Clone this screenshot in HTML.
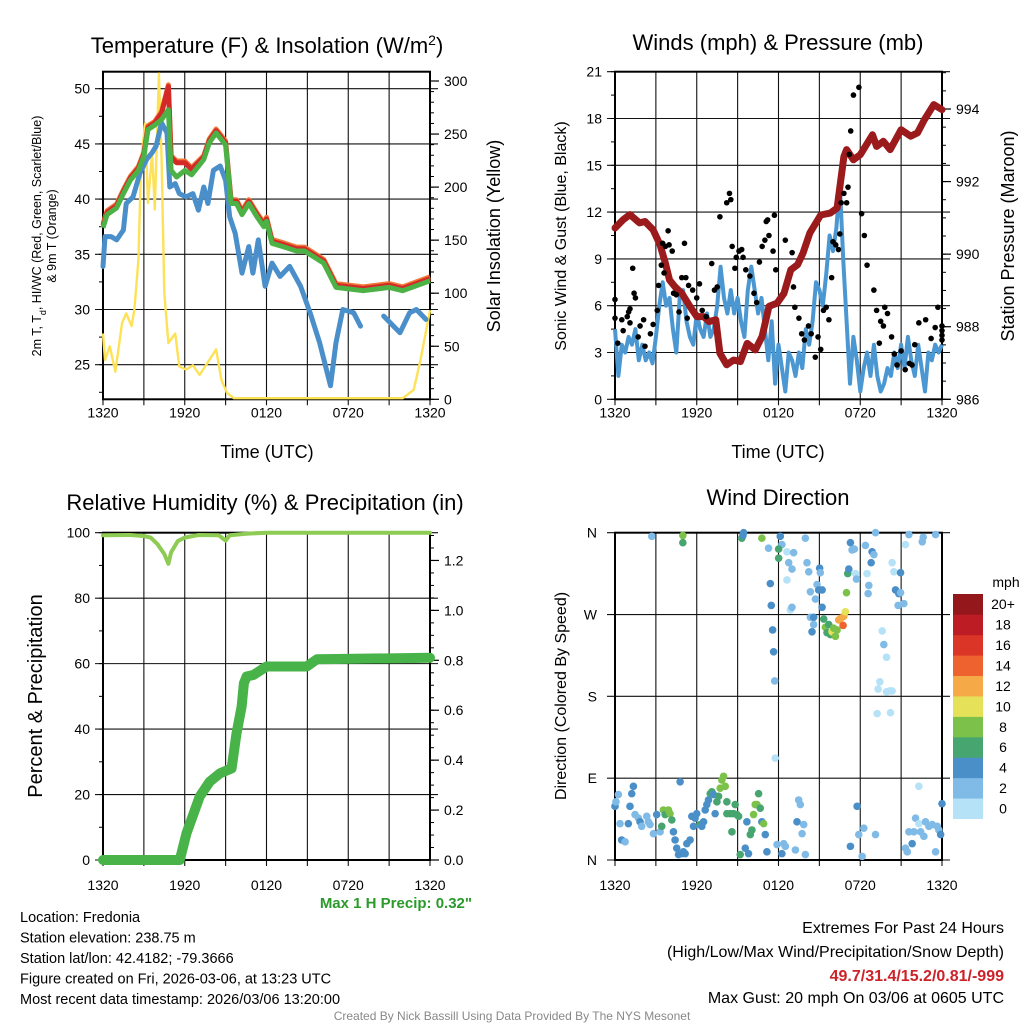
<!DOCTYPE html>
<html><head><meta charset="utf-8">
<style>
html,body{margin:0;padding:0;background:#fff;overflow:hidden;}
svg{display:block;font-family:"Liberation Sans",Arial,sans-serif;}
</style></head>
<body>
<svg id="chart" width="1024" height="1024" viewBox="0 0 1024 1024" xmlns="http://www.w3.org/2000/svg"></svg>
<script>
// ---------- data ----------
const timeTicks = ["1320","1920","0120","0720","1320"];
// Temperature panel
const tempGreenH = [0,0.3,1,1.5,2,2.6,3,3.3,3.8,4.3,4.8,5,5.4,6,6.5,7.4,7.8,8.3,9,9.4,9.8,10.2,10.7,11.3,11.8,12,12.4,13.2,14.2,14.8,16.2,17.1,19.1,21,22,24];
const tempGreen = [37.4,38.6,39.2,40.5,41.7,42.6,43.9,46.3,46.7,47.2,48.1,42.6,42.0,42.6,42.2,43.6,45.1,46.0,44.9,39.6,39.6,38.6,39.6,38.4,37.5,38.0,36.0,35.7,35.3,35.3,34.2,32.0,31.7,32.0,31.7,32.6];
const tempRed = [37.6,38.8,39.4,40.7,41.9,42.8,44.1,46.5,46.9,47.8,50.2,43.8,43.3,43.3,42.7,43.8,45.3,46.2,45.1,39.8,39.8,38.8,39.8,38.6,37.7,38.2,36.2,35.9,35.5,35.5,34.4,32.2,31.9,32.2,31.9,32.8];
const dewH = [0,0.15,0.6,1,1.5,1.7,2.2,2.7,3.2,3.6,3.9,4.3,4.7,4.9,5.3,5.6,6.1,6.6,7,7.4,7.7,8.1,8.6,9,9.3,9.7,10.2,10.7,11,11.4,11.9,12.4,13,13.7,14.5,15.2,15.9,16.7,17.1,17.6,18.4,18.9,19.6,20.6,21.8,22.5,23,23.7];
const dew = [33.9,36.6,36.6,36.3,37.2,39.6,40.2,42.3,43.6,44.2,44.8,46.9,46.0,41.1,41.4,40.5,40.2,40.5,39.0,41.1,39.6,42.6,43.0,41.7,38.4,36.9,33.3,35.7,33.3,36.3,32.1,34.2,33.0,33.9,32.1,29.7,27.0,23.1,27.0,30.0,29.7,28.5,null,29.4,27.9,29.7,30.0,29.1];
const solarH = [0,0.15,0.5,0.9,1.4,1.7,2.1,2.3,2.6,2.8,3.1,3.3,3.6,3.8,4.1,4.3,4.5,4.8,5.3,5.6,6.1,6.6,7.1,7.8,8.3,8.7,9.1,9.6,22,22.8,23.3,24];
const solar = [62,37,50,26,72,81,69,84,131,226,260,185,232,179,307,226,100,53,62,31,28,32,23,37,47,18,6,1,1,9,37,84];
// Winds panel
const windH = [];
for (let i = 0; i <= 96; i++) windH.push(i * 0.25);
const wind = [4.5,1.5,3.5,3,4,3.5,4.5,2.5,3.5,2.5,3,2.3,4,6,7.5,6,6.5,4.5,3,6.5,7,5,4,3.5,5.5,4.5,4,5.5,4,4.5,6,8.5,6.5,5.5,7,5.5,6.5,5,4,7,8.5,7,5.5,6.5,4.5,2.5,5,1,3.5,2,0.5,3,2.5,1.5,3,2,4.5,3.5,5,7.5,7,6,8,10.5,9.5,11,13.8,9,5,1,4,2.5,0.5,2,3,1.5,3.5,1.5,0.5,1,2,1.5,3,2,3.5,2,4,2.5,1.5,3.5,2,0.5,3,2.5,3.5,3,3.5];
const gustH = [0,0,0.2,0.5,0.6,0.9,1,1.1,1.3,1.4,1.5,1.1,1.7,1.84,2.1,2.2,2.6,2.8,3.1,3.2,3.4,3.5,3.7,3.9,3.97,4.2,3.6,4.3,4.5,4.7,4.9,5.1,5.2,5.3,5.4,5.7,6,6.2,6.4,6.7,7.1,7.3,7.5,7.7,8.2,8.4,8.5,8.6,8.8,8.9,9.1,9.3,9.4,9.6,9.9,10.2,10.4,10.6,10.8,11.0,11.1,11.2,11.3,11.6,11.7,11.8,12.5,13.0,13.1,13.2,13.5,13.7,13.9,14.2,14.4,14.7,14.9,15.1,15.3,15.5,15.7,15.9,16.0,16.2,16.4,16.5,16.6,16.8,17.0,17.1,17.2,17.3,17.5,17.9,18.1,18.3,18.5,19.0,19.2,19.4,19.5,19.7,19.8,20.0,20.3,20.5,20.7,21.0,21.3,21.6,21.8,22.0,22.3,22.8,23.2,23.5,23.7,24.0,24.4,24.6,24.0];
const gust = [6.4,5.2,3.6,5.1,4.4,5.3,5.6,5.8,8.4,6.8,6.5,4.9,4.0,4.7,5.1,3.4,4.2,4.8,5.7,7.3,8.6,10.0,9.8,10.8,9.9,9.5,8.1,6.8,6.7,5.6,7.8,10.0,7.8,5.2,7.3,7.0,6.5,7.4,5.7,5.3,8.7,7.0,7.2,11.7,12.6,13.2,12.8,9.8,8.4,9.1,9.5,9.6,9.1,8.3,7.9,6.8,6.2,8.8,9.8,10.2,11.4,11.5,10.5,9.5,11.8,8.3,10.2,9.4,7.2,5.9,5.2,4.2,3.8,4.7,4.2,2.7,4.0,3.2,5.7,5.9,5.1,7.8,10.1,9.9,9.6,10.6,12.6,13.2,12.6,13.6,15.7,17.2,19.5,20.0,11.9,10.5,8.6,7.0,5.7,3.6,5.0,4.7,5.9,5.5,4.0,2.9,2.2,3.1,1.9,2.3,2.2,3.5,4.9,5.1,3.9,4.6,5.9,4.7,3.8,4.1,4.4,4.7,5.6,5.2,5.1];
const presH = [0,0.6,1.1,1.8,2.2,2.8,3.3,3.7,4.0,4.4,4.9,5.5,6,6.5,6.9,7.4,7.7,8.2,8.7,9.2,9.7,10.3,10.8,11.3,11.9,12.4,12.9,13.4,13.8,14.3,15.1,15.8,16.3,16.8,17.0,17.5,18.0,18.9,19.2,19.7,20.2,21,21.7,22.2,22.7,23.4,24];
const pres = [990.72,990.95,991.09,990.86,990.9,990.67,990.26,989.75,989.29,989.1,988.92,988.56,988.28,988.28,988.14,988.19,987.27,986.95,987.08,987.04,987.54,987.36,987.73,988.56,988.65,988.92,989.57,989.71,990.03,990.58,991.08,991.13,991.27,992.69,992.88,992.6,992.74,993.29,992.97,993.11,992.88,993.43,993.25,993.34,993.7,994.12,993.98];
// RH & precip panel
const rhH = [0,2,3,3.5,4,4.5,4.8,5,5.5,6,7,8.5,9.0,9.3,10.5,12,24];
const rh = [99.2,99.3,99,98.5,96.5,93.5,90.5,94,97.5,98.5,99.3,99.2,97.6,99.2,99.7,100,100];
const precipH = [0,5.64,6.13,7.1,7.84,8.58,9.44,9.8,10.17,10.34,10.54,11.03,12.0,14.95,15.7,24];
const precip = [0,0,0.107,0.254,0.314,0.347,0.367,0.507,0.614,0.708,0.735,0.741,0.775,0.775,0.804,0.81];
// Wind direction panel
const dirH = [0,0.25,0.07,0.37,0.49,0.74,0.98,1.10,1.23,1.35,1.47,1.72,1.84,1.96,2.33,2.45,2.57,2.82,3.06,3.31,3.43,3.55,3.68,3.92,4.04,4.17,4.29,4.41,4.53,4.66,4.78,4.90,5.02,5.15,5.27,5.51,5.64,5.76,5.88,6.00,6.25,6.37,6.50,6.62,6.74,6.86,6.99,7.11,7.23,7.35,7.48,7.60,7.72,7.84,7.97,8.09,8.21,8.21,8.46,8.58,8.70,8.82,8.95,9.07,9.19,9.56,9.68,9.80,9.93,10.05,10.17,10.29,10.42,10.54,10.66,10.78,10.91,11.03,11.15,11.89,12.25,12.38,12.50,13.24,13.36,13.48,13.60,13.73,13.85,13.97,17.28,17.77,17.89,18.26,18.14,19.12,21.32,21.45,21.57,21.81,21.94,22.06,22.30,22.43,22.67,22.79,23.04,23.28,23.53,23.65,23.77,23.90,24.0,22.30,
2.70,4.98,4.98,9.31,9.44,9.39,10.78,12.13,12.25,11.27,12.01,12.01,12.62,13.11,12.75,12.99,12.62,11.40,11.47,12.87,12.99,13.97,14.09,14.22,15.02,15.07,14.83,14.95,15.20,14.34,14.71,15.20,14.34,14.58,14.58,14.46,15.32,15.44,15.69,15.56,15.81,15.93,16.05,16.18,16.30,16.42,16.59,16.79,16.91,16.74,16.99,17.08,17.16,17.28,17.40,17.57,17.65,17.72,18.38,18.50,18.63,18.58,18.87,19.00,18.80,19.12,20.34,20.47,20.96,20.59,20.83,20.96,20.78,21.20,21.32,21.57,22.55,22.62,23.53,
11.57,11.64,11.72,11.76,19.61,19.73,19.93,19.44,19.31,19.93,20.34,20.17,19.24,20.22];
const dirDeg = [59,72,64,40,22,20,40,59,73,81,50,46,42,37,48,42,39,29,50,31,37,55,50,55,51,44,31,22,13,6,86,7,9,7,18,22,48,37,46,51,39,37,42,55,61,66,73,75,72,51,64,70,79,88,92,81,64,51,51,31,51,61,50,48,6,13,42,7,28,33,50,61,61,73,57,42,40,28,9,17,7,18,15,11,42,66,61,29,39,6,15,59,28,35,4,28,13,9,31,18,31,46,40,31,26,42,37,39,9,37,33,28,62,81,
356,357,349,354,360,357,354,356,347,343,342,332,339,338,327,320,308,304,280,275,278,354,327,317,321,316,303,297,297,295,287,278,267,267,259,251,265,256,259,250,248,251,255,246,253,264,266,268,273,258,294,315,320,349,341,342,315,309,346,315,302,293,339,336,327,360,327,317,316,297,293,294,280,282,347,358,350,355,358,
253,229,197,112,252,237,223,196,188,185,186,186,161,162];
const dirSpd = [4,2,2,2,4,2,4,4,4,4,2,2,4,2,2,2,2,2,4,2,6,8,6,8,8,6,4,4,4,4,4,4,4,4,4,4,4,4,4,4,6,4,4,4,4,4,6,6,4,4,6,6,8,8,8,8,6,6,6,6,6,6,6,6,6,4,4,4,6,6,8,8,8,6,6,4,8,4,4,2,4,2,2,2,4,2,2,2,2,2,4,4,2,2,2,2,2,2,2,4,2,2,0,2,2,2,2,2,2,2,2,4,4,0,
2,8,6,6,4,4,8,4,2,2,6,6,0,2,2,2,0,4,4,0,2,2,2,2,4,2,2,4,4,2,2,4,2,4,2,4,6,8,6,6,6,10,8,8,8,12,12,12,10,14,8,6,4,4,2,2,0,2,2,0,2,2,4,2,4,2,0,0,4,4,4,2,2,2,0,2,2,2,2,
4,4,2,0,0,2,0,0,0,0,0,0,0,0];
const cbLabels = ["0","2","4","6","8","10","12","14","16","18","20+"];
const cbColors = ["#b5e2f7","#7fbbe6","#4a8fc7","#47a56f","#7cc24a","#e5e158","#f5a947","#ee6230","#db3527","#bd1c24","#94171b"];

// ---------- helpers ----------
const NS = "http://www.w3.org/2000/svg";
const svg = document.getElementById("chart");
function el(tag, attrs, parent, text) {
  const e = document.createElementNS(NS, tag);
  for (const k in attrs) e.setAttribute(k, attrs[k]);
  if (text !== undefined) e.textContent = text;
  (parent || svg).appendChild(e);
  return e;
}
function lin(d0, d1, r0, r1) { return v => r0 + (v - d0) * (r1 - r0) / (d1 - d0); }
function pathD(xs, ys, fx, fy) {
  let d = "", pen = false;
  for (let i = 0; i < xs.length; i++) {
    if (ys[i] === null || ys[i] === undefined) { pen = false; continue; }
    d += (pen ? "L" : "M") + fx(xs[i]).toFixed(1) + "," + fy(ys[i]).toFixed(1);
    pen = true;
  }
  return d;
}
function panel(name) {
  const g = el("g", {});
  
  
  return g;
}
function frame(g, x0, x1, y0, y1, hLines, fy, labOff) {
  const grid = el("g", { stroke: "#111", "stroke-width": 1.1 }, g);
  
  
  for (let i = 0; i <= 8; i++) {
    const x = x0 + i * (x1 - x0) / 8;
    el("line", { x1: x, y1: y0, x2: x, y2: y1 + 6 }, grid);
  }
  hLines.forEach(v => { const y = fy(v); el("line", { x1: x0 - 8, y1: y, x2: x1 + 8, y2: y }, grid); });
  timeTicks.forEach((t, i) => {
    const tx = el("text", { x: x0 + i * (x1 - x0) / 4, y: y1 + labOff, "font-size": 14, "text-anchor": "middle", fill: "#000" }, g, t);
    
    
  });
  const box = el("rect", { x: x0, y: y0, width: x1 - x0, height: y1 - y0, fill: "none", stroke: "#000", "stroke-width": 2 }, g);
  
  
}
function ticksLeft(g, x0, vals, fy, fmt) {
  vals.forEach(v => {
    const t = el("text", { x: x0 - 13, y: fy(v) + 5, "font-size": 14, "text-anchor": "end" }, g, fmt ? fmt(v) : v);
    
    
  });
}
function minorLeft(g, x0, from, to, step, fy) {
  for (let v = from; v <= to + 1e-9; v += step) el("line", { x1: x0 - 4, y1: fy(v), x2: x0, y2: fy(v), stroke: "#000", "stroke-width": 1 }, g);
}
function ticksRight(g, x1, major, minorFrom, minorTo, minorStep, fy, fmt) {
  for (let v = minorFrom; v <= minorTo + 1e-9; v += minorStep) el("line", { x1: x1, y1: fy(v), x2: x1 + 4, y2: fy(v), stroke: "#000", "stroke-width": 1 }, g);
  major.forEach(v => {
    el("line", { x1: x1, y1: fy(v), x2: x1 + 9, y2: fy(v), stroke: "#000", "stroke-width": 1.2 }, g);
    const t = el("text", { x: x1 + 14, y: fy(v) + 5, "font-size": 14 }, g, fmt ? fmt(v) : v);
    
    
  });
}
function title(txt, x, y, size, name) {
  const t = el("text", { x: x, y: y, "font-size": size, "text-anchor": "middle" }, svg, txt);
  
  
  return t;
}
function vtitle(txt, x, y, size, name) {
  const t = el("text", { x: 0, y: 0, "font-size": size, "text-anchor": "middle", transform: `translate(${x},${y}) rotate(-90)` }, svg, txt);
  
  
  return t;
}

// ---------- Panel 1: Temperature ----------
{
  const x0 = 103, x1 = 430, y0 = 71.7, y1 = 399.3;
  const fx = lin(0, 24, x0, x1), fy = lin(25, 50, 364.7, 88.7), fs = lin(0, 300, 399.3, 81);
  const g = panel("temperature-panel");
  frame(g, x0, x1, y0, y1, [25, 30, 35, 40, 45, 50], fy, 18);
  minorLeft(g, x0, 22.5, 50, 2.5, fy);
  ticksLeft(g, x0, [25, 30, 35, 40, 45, 50], fy);
  ticksRight(g, x1, [0, 50, 100, 150, 200, 250, 300], 0, 300, 10, fs);
  const ys = el("path", { d: pathD(solarH, solar, fx, fs), fill: "none", stroke: "#fde257", "stroke-width": 2.4, "stroke-linejoin": "round" }, g);
   
  const dp = el("path", { d: pathD(dewH, dew, fx, fy), fill: "none", stroke: "#4a8fc9", "stroke-width": 5, "stroke-linejoin": "round", "stroke-linecap": "round" }, g);
   
  const t9 = el("path", { d: pathD(tempGreenH, tempRed.map(v => v + 0.15), fx, fy), fill: "none", stroke: "#f07a3a", "stroke-width": 5, "stroke-linejoin": "round" }, g);
   
  const tr = el("path", { d: pathD(tempGreenH, tempRed, fx, fy), fill: "none", stroke: "#d42a27", "stroke-width": 5, "stroke-linejoin": "round" }, g);
   
  const tg = el("path", { d: pathD(tempGreenH, tempGreen, fx, fy), fill: "none", stroke: "#4cb246", "stroke-width": 5, "stroke-linejoin": "round" }, g);
   
  const tt = el("text", { x: 267, y: 53, "font-size": 22, "text-anchor": "middle" }, svg);
   
  tt.appendChild(document.createTextNode("Temperature (F) & Insolation (W/m"));
  el("tspan", { "baseline-shift": "super", "font-size": 14 }, tt, "2");
  tt.appendChild(document.createTextNode(")"));
  title("Time (UTC)", 267, 458, 18, "x-axis-title");
  vtitle("Solar Insolation (Yellow)", 500, 236, 18, "solar-axis-title");
  const yg = el("g", { transform: "translate(41,236) rotate(-90)" }, svg);
   
  const yl = el("text", { x: 0, y: 0, "font-size": 12.5, "text-anchor": "middle" }, yg);
  yl.appendChild(document.createTextNode("2m T, T"));
  el("tspan", { "baseline-shift": "sub", "font-size": 9 }, yl, "d");
  yl.appendChild(document.createTextNode(", HI/WC (Red, Green, Scarlet/Blue)"));
  el("text", { x: 0, y: 15, "font-size": 12.5, "text-anchor": "middle" }, yg, "& 9m T (Orange)");
}

// ---------- Panel 2: Winds & Pressure ----------
{
  const x0 = 615, x1 = 942, y0 = 71.7, y1 = 399.3;
  const fx = lin(0, 24, x0, x1), fy = lin(0, 21, 399.3, 71.7), fp = lin(986, 994, 399.3, 109);
  const g = panel("winds-panel");
  frame(g, x0, x1, y0, y1, [0, 3, 6, 9, 12, 15, 18, 21], fy, 18);
  minorLeft(g, x0, 0, 21, 1.5, fy);
  ticksLeft(g, x0, [0, 3, 6, 9, 12, 15, 18, 21], fy);
  ticksRight(g, x1, [986, 988, 990, 992, 994], 986, 995, 0.5, fp);
  const ws = el("path", { d: pathD(windH, wind, fx, fy), fill: "none", stroke: "#4b97d2", "stroke-width": 4, "stroke-linejoin": "round" }, g);
   
  const pr = el("path", { d: pathD(presH, pres, fx, fp), fill: "none", stroke: "#9b1a1c", "stroke-width": 7, "stroke-linejoin": "round", "stroke-linecap": "round" }, g);
   
  for (let i = 0; i < gust.length; i++) {
    const c = el("circle", { cx: fx(Math.min(gustH[i], 24)), cy: fy(gust[i]), r: 2.8, fill: "#000" }, g);
    
    
  }
  title("Winds (mph) & Pressure (mb)", 778, 50, 22, "winds-title");
  title("Time (UTC)", 778, 458, 18, "x-axis-title");
  vtitle("Sonic Wind & Gust (Blue, Black)", 566, 236, 16, "wind-axis-title");
  vtitle("Station Pressure (Maroon)", 1014, 236, 18, "pressure-axis-title");
}

// ---------- Panel 3: RH & Precip ----------
{
  const x0 = 103, x1 = 430, y0 = 532.7, y1 = 860;
  const fx = lin(0, 24, x0, x1), fy = lin(0, 100, 860, 532.7), fp = lin(0, 0.8, 860, 660.3);
  const g = panel("humidity-panel");
  frame(g, x0, x1, y0, y1, [0, 20, 40, 60, 80, 100], fy, 30);
  minorLeft(g, x0, 0, 100, 10, fy);
  ticksLeft(g, x0, [0, 20, 40, 60, 80, 100], fy);
  ticksRight(g, x1, [0, 0.2, 0.4, 0.6, 0.8, 1.0, 1.2], 0, 1.3, 0.05, fp, v => v.toFixed(1));
  const rl = el("path", { d: pathD(rhH, rh, fx, fy), fill: "none", stroke: "#8dcb52", "stroke-width": 4, "stroke-linejoin": "round", "stroke-linecap": "round" }, g);
   
  const pl = el("path", { d: pathD(precipH, precip, fx, fp), fill: "none", stroke: "#48b348", "stroke-width": 10, "stroke-linejoin": "round", "stroke-linecap": "round" }, g);
   
  title("Relative Humidity (%) & Precipitation (in)", 265, 510, 22, "humidity-title");
  vtitle("Percent & Precipitation", 42, 696, 20, "humidity-axis-title");
  const mp = el("text", { x: 472, y: 908, "font-size": 15, "font-weight": "bold", fill: "#2a9a2a", "text-anchor": "end" }, svg, 'Max 1 H Precip: 0.32"');
   
}

// ---------- Panel 4: Wind direction ----------
{
  const x0 = 615, x1 = 942, y0 = 532.7, y1 = 860;
  const fx = lin(0, 24, x0, x1), fy = lin(0, 360, 860, 532.7);
  const g = panel("wind-direction-panel");
  frame(g, x0, x1, y0, y1, [0, 90, 180, 270, 360], fy, 30);
  ["N", "E", "S", "W", "N"].forEach((l, i) => {
    const t = el("text", { x: x0 - 18, y: fy(i * 90) + 5, "font-size": 14, "text-anchor": "end" }, g, l);
     
  });
  for (let i = 0; i < dirDeg.length; i++) {
    const bin = Math.min(10, Math.floor(dirSpd[i] / 2));
    const c = el("circle", { cx: fx(Math.min(dirH[i], 24)), cy: fy(dirDeg[i]), r: 3.8, fill: cbColors[bin] }, g);
    
    
  }
  title("Wind Direction", 778, 505, 22, "wind-direction-title");
  vtitle("Direction (Colored By Speed)", 566, 696, 16, "direction-axis-title");
  const cb = el("g", {}, svg);
   
  const ch = (818.7 - 594) / 11;
  cbLabels.forEach((lab, i) => {
    const top = 818.7 - (i + 1) * ch;
    el("rect", { x: 953, y: top, width: 30, height: ch + 0.3, fill: cbColors[i] }, cb);
    const t = el("text", { x: 1003, y: top + ch / 2 + 5, "font-size": 14, "text-anchor": "middle" }, cb, lab);
     
  });
  const mu = el("text", { x: 1006, y: 587, "font-size": 14, "text-anchor": "middle" }, cb, "mph");
   
}

// ---------- footer text ----------
const info = ["Location: Fredonia", "Station elevation: 238.75 m", "Station lat/lon: 42.4182; -79.3666", "Figure created on Fri, 2026-03-06, at 13:23 UTC", "Most recent data timestamp: 2026/03/06 13:20:00"];
info.forEach((s, i) => {
  const t = el("text", { x: 20, y: 922 + i * 20.5, "font-size": 14.5 }, svg, s);
   
});
[["Extremes For Past 24 Hours", 933, "#000", "normal"], ["(High/Low/Max Wind/Precipitation/Snow Depth)", 957, "#000", "normal"], ["49.7/31.4/15.2/0.81/-999", 981, "#cc2229", "bold"], ["Max Gust: 20 mph On 03/06 at 0605 UTC", 1003, "#000", "normal"]].forEach(r => {
  const t = el("text", { x: 1004, y: r[1], "font-size": 16, "text-anchor": "end", fill: r[2], "font-weight": r[3] }, svg, r[0]);
   
});
const cr = el("text", { x: 512, y: 1020, "font-size": 12, "text-anchor": "middle", fill: "#888" }, svg, "Created By Nick Bassill Using Data Provided By The NYS Mesonet");
 
const mask = el("rect", { x: 0, y: 290, width: 14, height: 50, fill: "#fff" }, svg);


</script>
</body></html>
